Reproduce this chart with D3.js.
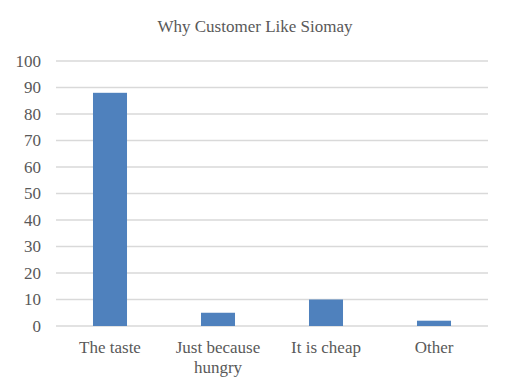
<!DOCTYPE html>
<html>
<head>
<meta charset="utf-8">
<script src="https://cdn.jsdelivr.net/npm/d3@7"></script>
<style>
  body { margin: 0; background: #fff; }
  text { font-family: "Liberation Serif", "DejaVu Serif", serif; fill: #595959; }
</style>
</head>
<body>
<svg id="chart" width="510" height="390"></svg>
<script>
const categories = ['The taste', 'Just because hungry', 'It is cheap', 'Other'];
const labelLines = [['The taste'], ['Just because', 'hungry'], ['It is cheap'], ['Other']];
const values = [88, 5, 10, 2];
const yTicks = [0, 10, 20, 30, 40, 50, 60, 70, 80, 90, 100];
const title = 'Why Customer Like Siomay';

const margin = { top: 61, right: 22, bottom: 64, left: 56 };
const width = 510, height = 390;

const svg = d3.select('#chart');

const x = d3.scaleBand()
  .domain(categories)
  .range([margin.left, width - margin.right])
  .paddingInner(0.685)
  .paddingOuter(0.3425);

const y = d3.scaleLinear()
  .domain([0, 100])
  .range([height - margin.bottom, margin.top]);

svg.append('text')
  .attr('x', 255)
  .attr('y', 32)
  .attr('text-anchor', 'middle')
  .attr('font-size', 17)
  .text(title);

// gridlines
svg.append('g')
  .selectAll('line')
  .data(yTicks)
  .join('line')
  .attr('x1', margin.left)
  .attr('x2', width - margin.right)
  .attr('y1', d => y(d))
  .attr('y2', d => y(d))
  .attr('stroke', '#d9d9d9')
  .attr('stroke-width', 1.5);

const yAxis = svg.append('g')
  .attr('transform', `translate(${margin.left},0)`)
  .call(d3.axisLeft(y).tickValues(yTicks).tickSize(0).tickPadding(15));
yAxis.select('.domain').remove();
yAxis.selectAll('text')
  .attr('font-size', 17)
  .attr('fill', '#595959')
  .style('font-family', '"Liberation Serif", serif');

svg.append('g')
  .selectAll('rect')
  .data(values)
  .join('rect')
  .attr('x', (d, i) => x(categories[i]))
  .attr('width', x.bandwidth())
  .attr('y', d => y(d))
  .attr('height', d => y(0) - y(d))
  .attr('fill', '#4f81bd');

const xLabels = svg.append('g')
  .selectAll('text')
  .data(categories)
  .join('text')
  .attr('x', d => x(d) + x.bandwidth() / 2)
  .attr('y', 353)
  .attr('text-anchor', 'middle')
  .attr('font-size', 17);

xLabels.each(function(d, i) {
  d3.select(this).selectAll('tspan')
    .data(labelLines[i])
    .join('tspan')
    .attr('x', x(d) + x.bandwidth() / 2)
    .attr('dy', (t, j) => j === 0 ? 0 : 20)
    .text(t => t);
});
</script>
</body>
</html>
